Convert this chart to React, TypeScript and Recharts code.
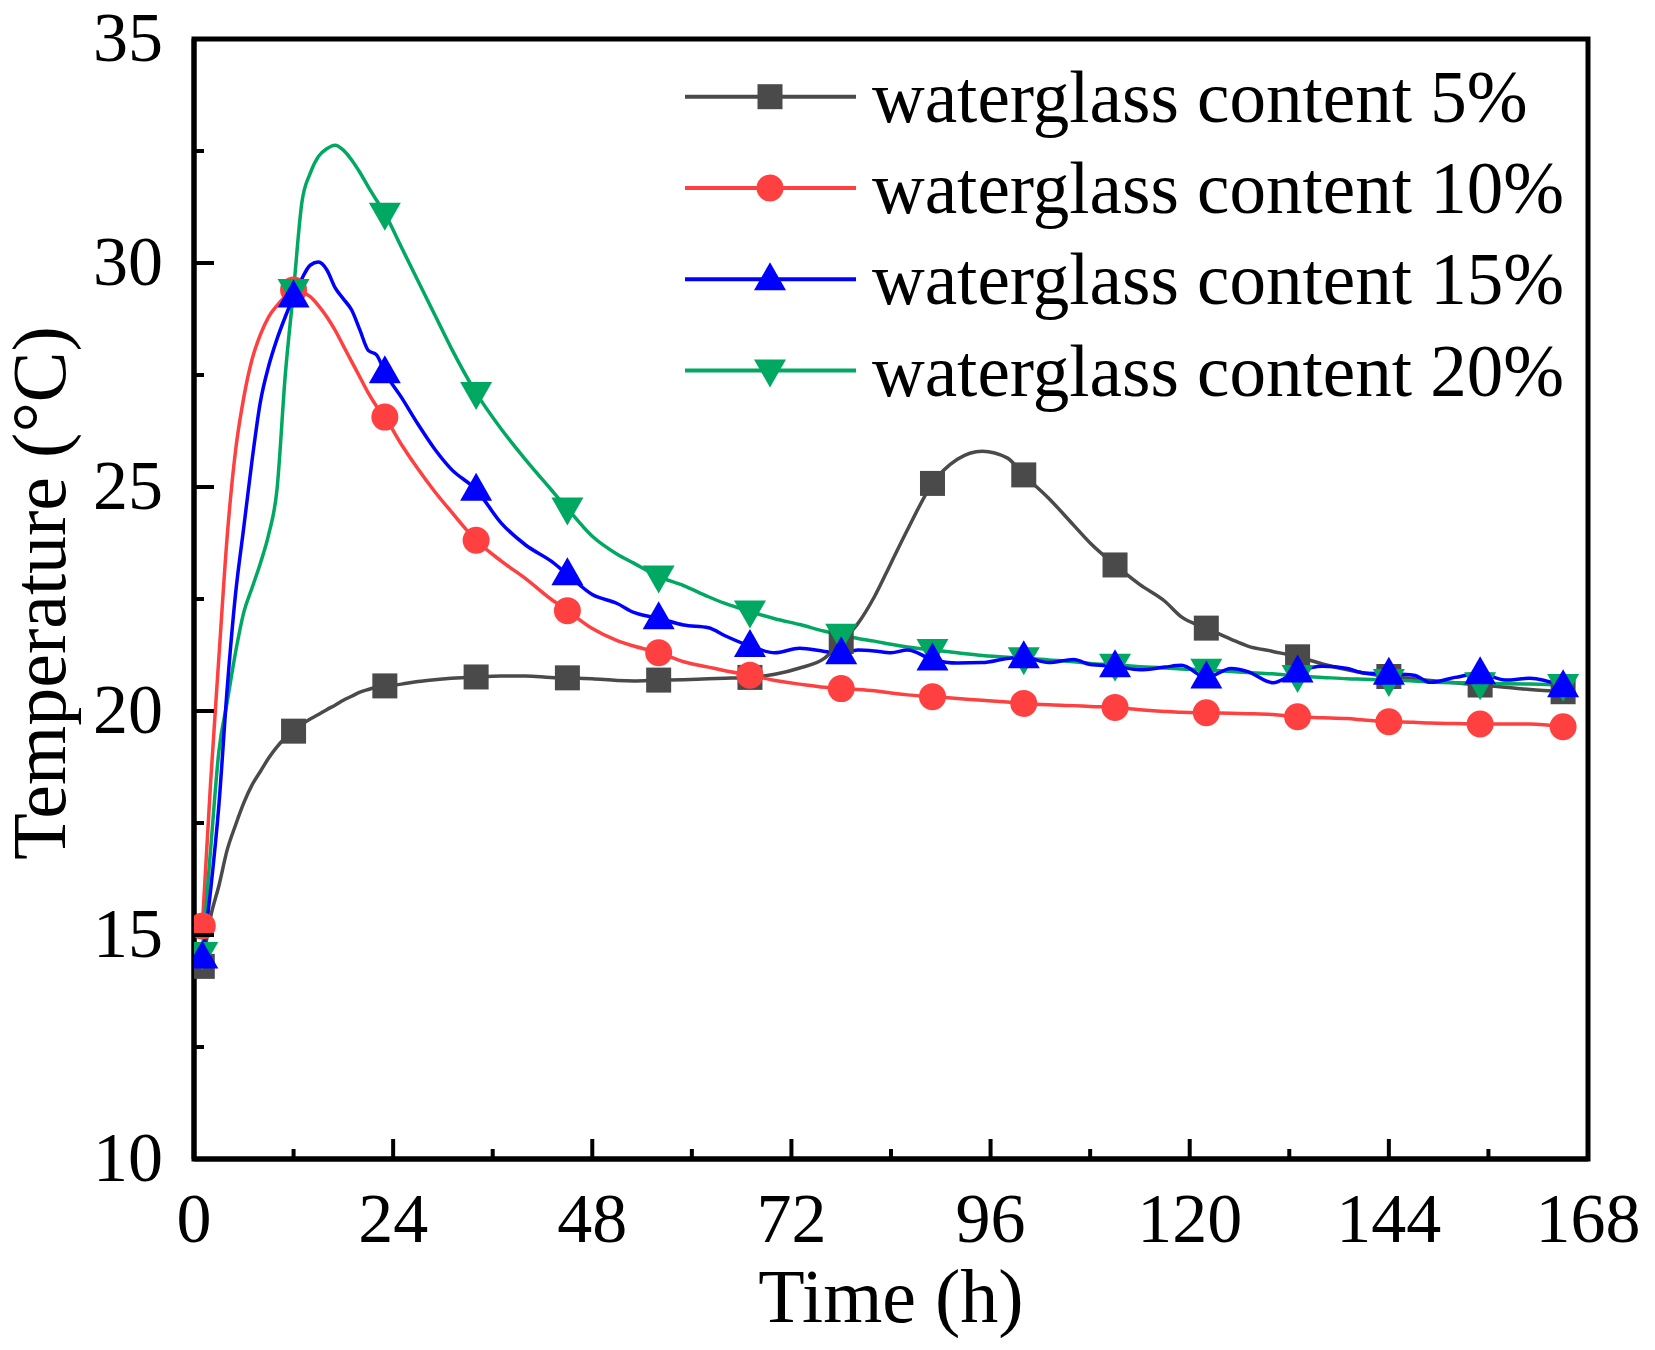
import React from "react"
import {
  LineChart, Line, XAxis, YAxis, Legend, ReferenceArea
} from "recharts"

// time (h) of each sample
const HOURS = [
  1, 2, 3, 4, 5, 6, 7, 8, 9, 10, 11, 12, 13, 14, 15, 16, 17, 18, 19, 20, 21, 22, 23,
  25, 27, 29, 31, 34, 37, 40, 43, 45, 48, 51, 53, 56, 59, 62, 64, 67, 70, 73, 76,
  78, 80, 82, 84, 86, 89, 92, 95, 98, 100, 103, 106, 108, 111, 114, 117, 119,
  122, 125, 127, 130, 133, 136, 139, 141, 144, 147, 149, 152, 155, 158, 161, 165,
]

// hours where a symbol is drawn
const MARKER_HOURS = [1, 12, 23, 34, 45, 56, 67, 78, 89, 100, 111, 122, 133, 144, 155, 165]

const TEMP_5 = [
  14.3, 15.4, 16.1, 16.9, 17.45, 17.95, 18.35, 18.65, 18.95, 19.2, 19.4, 19.55, 19.7, 19.82, 19.92, 20.03, 20.13, 20.24, 20.33, 20.42, 20.48, 20.53, 20.56,
  20.6, 20.66, 20.7, 20.73, 20.76, 20.78, 20.78, 20.75, 20.74, 20.72, 20.68, 20.67, 20.69, 20.7, 20.72, 20.73, 20.75, 20.82, 20.96, 21.18,
  21.55, 21.95, 22.55, 23.3, 24.05, 25.08, 25.62, 25.8, 25.65, 25.27, 24.75, 24.15, 23.75, 23.26, 22.82, 22.45, 22.1,
  21.85, 21.6, 21.45, 21.33, 21.21, 21.05, 20.92, 20.85, 20.77, 20.72, 20.68, 20.63, 20.58, 20.53, 20.48, 20.43,
]

const TEMP_10 = [
  15.2, 18.4, 21.2, 23.9, 25.8, 27.0, 27.85, 28.4, 28.8, 29.05, 29.25, 29.4, 29.35, 29.25, 29.05, 28.8, 28.5, 28.15, 27.8, 27.45, 27.1, 26.8, 26.56,
  25.95, 25.4, 24.9, 24.45, 23.81, 23.35, 22.95, 22.5, 22.24, 21.84, 21.57, 21.45, 21.3, 21.1, 20.98, 20.9, 20.8, 20.68, 20.6, 20.53,
  20.5, 20.48, 20.45, 20.4, 20.36, 20.32, 20.28, 20.24, 20.2, 20.17, 20.14, 20.12, 20.1, 20.08, 20.03, 19.99, 19.97,
  19.96, 19.95, 19.94, 19.92, 19.87, 19.85, 19.83, 19.8, 19.76, 19.75, 19.73, 19.72, 19.71, 19.71, 19.71, 19.65,
]

const TEMP_15 = [
  14.5, 16.0, 17.9, 20.5, 22.6, 24.1, 25.6, 26.9, 27.7, 28.3, 28.8, 29.25, 29.65, 29.95, 30.02, 29.85, 29.45, 29.2, 28.95, 28.5, 28.05, 27.95, 27.56,
  27.0, 26.4, 25.85, 25.4, 24.94, 24.2, 23.7, 23.35, 23.05, 22.6, 22.4, 22.2, 22.07, 21.92, 21.86, 21.68, 21.45, 21.3, 21.4, 21.33,
  21.29, 21.36, 21.34, 21.3, 21.36, 21.15, 21.07, 21.08, 21.17, 21.2, 21.08, 21.15, 21.04, 21.0, 20.92, 20.98, 21.02,
  20.75, 20.95, 20.88, 20.63, 20.88, 21.0, 20.95, 20.85, 20.83, 20.8, 20.64, 20.75, 20.84, 20.69, 20.73, 20.55,
]

const TEMP_20 = [
  14.6, 16.9, 19.1, 20.2, 21.3, 22.2, 22.75, 23.3, 23.94, 24.94, 27.5, 29.4, 31.35, 32.0, 32.38, 32.55, 32.63, 32.52, 32.3, 32.02, 31.7, 31.4, 31.1,
  30.35, 29.6, 28.85, 28.1, 27.1, 26.3, 25.6, 24.95, 24.52, 23.9, 23.5, 23.3, 23.0, 22.8, 22.55, 22.4, 22.22, 22.06, 21.93, 21.78,
  21.7, 21.62, 21.56, 21.49, 21.43, 21.36, 21.3, 21.24, 21.2, 21.18, 21.14, 21.1, 21.06, 21.03, 20.99, 20.96, 20.94,
  20.92, 20.88, 20.86, 20.83, 20.78, 20.75, 20.72, 20.71, 20.69, 20.67, 20.65, 20.63, 20.62, 20.61, 20.6, 20.58,
]

const X_TICKS = [0, 12, 24, 36, 48, 60, 72, 84, 96, 108, 120, 132, 144, 156, 168]
const Y_TICKS = [10, 12.5, 15, 17.5, 20, 22.5, 25, 27.5, 30, 32.5, 35]

const SERIES = [
  { key: "s5", name: "waterglass content 5%", color: "#4a4a4a", shape: "square" },
  { key: "s10", name: "waterglass content 10%", color: "#ff4040", shape: "circle" },
  { key: "s15", name: "waterglass content 15%", color: "#0000ff", shape: "up" },
  { key: "s20", name: "waterglass content 20%", color: "#00a862", shape: "down" },
]

// drawing order: green before blue so blue triangles sit on top
const DRAW_ORDER = ["s5", "s10", "s20", "s15"]

const data = HOURS.map((t, i) => ({
  t,
  s5: TEMP_5[i],
  s10: TEMP_10[i],
  s15: TEMP_15[i],
  s20: TEMP_20[i],
}))

const FONT = "'Liberation Serif', 'Times New Roman', serif"

function Marker({ cx, cy, shape, color }: { cx: number; cy: number; shape: string; color: string }) {
  if (shape === "square") {
    return <rect x={cx - 12.5} y={cy - 12.5} width={25} height={25} fill={color} />
  }
  if (shape === "circle") {
    return <circle cx={cx} cy={cy} r={13.5} fill={color} />
  }
  if (shape === "up") {
    return <polygon points={`${cx},${cy - 17} ${cx + 16},${cy + 11} ${cx - 16},${cy + 11}`} fill={color} />
  }
  return <polygon points={`${cx},${cy + 17} ${cx + 16},${cy - 11} ${cx - 16},${cy - 11}`} fill={color} />
}

function makeDot(shape: string, color: string, key: string) {
  return (p: any) => {
    const k = `${key}-${p.index}`
    if (!MARKER_HOURS.includes(p.payload?.t) || p.cx == null || p.cy == null) return <g key={k} />
    return (
      <g key={k}>
        <Marker cx={p.cx} cy={p.cy} shape={shape} color={color} />
      </g>
    )
  }
}

function XTick(props: any) {
  const { x, y, payload } = props
  const v = payload.value
  const major = v % 24 === 0
  return (
    <g>
      <line x1={x} x2={x} y1={y} y2={y - (major ? 20 : 10)} stroke="#000" strokeWidth={4} />
      {major && (
        <text x={x} y={y + 83} textAnchor="middle" fontSize={70} fontFamily={FONT} fill="#000">
          {v}
        </text>
      )}
    </g>
  )
}

function YTick(props: any) {
  const { x, y, payload } = props
  const v = payload.value
  const major = v % 5 === 0
  return (
    <g>
      <line x1={x} x2={x + (major ? 20 : 10)} y1={y} y2={y} stroke="#000" strokeWidth={4} />
      {major && (
        <text x={x - 31} y={y + 22} textAnchor="end" fontSize={70} fontFamily={FONT} fill="#000">
          {v}
        </text>
      )}
    </g>
  )
}

function XLabel(props: any) {
  const { viewBox } = props
  return (
    <text
      x={viewBox.x + viewBox.width / 2}
      y={viewBox.y + 163}
      textAnchor="middle"
      fontSize={76}
      fontFamily={FONT}
      fill="#000"
    >
      Time (h)
    </text>
  )
}

function YLabel(props: any) {
  const { viewBox } = props
  const bx = viewBox.x + 57
  const by = viewBox.y + viewBox.height / 2 - 6
  return (
    <text
      x={bx}
      y={by}
      transform={`rotate(-90, ${bx}, ${by})`}
      textAnchor="middle"
      fontSize={76}
      fontFamily={FONT}
      fill="#000"
    >
      Temperature (°C)
    </text>
  )
}

function LegendBox() {
  const rowH = 91.3
  return (
    <svg width={920} height={370} style={{ display: "block", overflow: "visible" }}>
      {SERIES.map((s, i) => {
        const cy = 45.7 + i * rowH
        return (
          <g key={s.key}>
            <line x1={0} x2={171} y1={cy} y2={cy} stroke={s.color} strokeWidth={4} />
            <Marker cx={85} cy={cy} shape={s.shape} color={s.color} />
            <text x={187} y={cy + 25} fontSize={73} fontFamily={FONT} fill="#000">
              {s.name}
            </text>
          </g>
        )
      })}
    </svg>
  )
}

export default function App() {
  return (
    <div style={{ width: 1640, height: 1330, fontFamily: FONT, background: "#fff" }}>
      <LineChart
        width={1640}
        height={1330}
        data={data}
        margin={{ top: 31, right: 60, left: 0, bottom: 0 }}
      >
        <XAxis
          dataKey="t"
          type="number"
          domain={[0, 168]}
          ticks={X_TICKS}
          interval={0}
          height={179}
          tickSize={0}
          tickMargin={0}
          tickLine={false}
          axisLine={{ stroke: "#000", strokeWidth: 5 }}
          tick={<XTick />}
          label={<XLabel />}
          allowDataOverflow
        />
        <YAxis
          type="number"
          domain={[10, 35]}
          ticks={Y_TICKS}
          interval={0}
          width={186}
          tickSize={0}
          tickMargin={0}
          tickLine={false}
          axisLine={{ stroke: "#000", strokeWidth: 5 }}
          tick={<YTick />}
          label={<YLabel />}
          allowDataOverflow
        />
        {DRAW_ORDER.map(k => {
          const s = SERIES.find(x => x.key === k)!
          return (
            <Line
              key={s.key}
              dataKey={s.key}
              name={s.name}
              type="monotone"
              stroke={s.color}
              strokeWidth={3.5}
              dot={makeDot(s.shape, s.color, s.key)}
              activeDot={false}
              isAnimationActive={false}
            />
          )
        })}
        <ReferenceArea
          x1={0}
          x2={168}
          y1={10}
          y2={35}
          fill="none"
          fillOpacity={0}
          stroke="#000"
          strokeWidth={5}
          ifOverflow="visible"
        />
        <Legend
          layout="vertical"
          align="center"
          verticalAlign="middle"
          content={() => <LegendBox />}
          wrapperStyle={{ left: 677, top: 43, width: 920, height: 370 }}
        />
      </LineChart>
    </div>
  )
}
